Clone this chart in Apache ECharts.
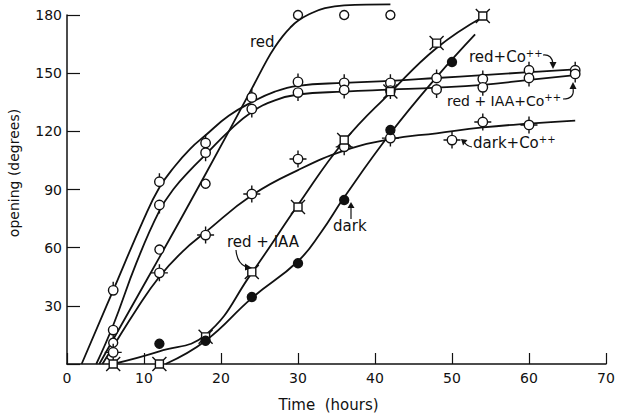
<!DOCTYPE html>
<html>
<head>
<meta charset="utf-8">
<script src="https://cdn.jsdelivr.net/npm/echarts@6/dist/echarts.min.js"></script>
<style>
  html, body { margin: 0; padding: 0; background: #fff; }
  #chart { width: 619px; height: 419px; }
</style>
</head>
<body>
<div id="chart"></div>
<script>
// measured points: time (hours) / opening (degrees)
const redTime = [6, 12, 18, 30, 36, 42]
const redOpen = [11, 59, 93, 180, 180, 180]

const redCoTime = [6, 12, 18, 24, 30, 36, 42, 48, 54, 60, 66]
const redCoOpen = [38, 94, 114, 137.5, 145.5, 145, 145, 147.5, 147, 151.5, 151.5]

const redIaaCoTime = [6, 12, 18, 24, 30, 36, 42, 48, 54, 60, 66]
const redIaaCoOpen = [17.5, 82, 109, 131.5, 140, 141.3, 141, 141.6, 142.7, 147.5, 149.6]

const darkCoTime = [6, 12, 18, 24, 30, 36, 42, 50, 54, 60]
const darkCoOpen = [6, 47, 66.5, 87.7, 105.7, 112, 116.5, 115.5, 124.8, 123.3]

const redIaaTime = [6, 12, 18, 24, 30, 36, 42, 48, 54]
const redIaaOpen = [0, 0, 14, 47.5, 81, 115.5, 140.5, 165.5, 179.5]

const darkTime = [12, 18, 24, 30, 36, 42, 50]
const darkOpen = [10.5, 12, 34.5, 52, 84.6, 120.7, 155.8]

// hand-drawn fitted curves
const redFitTime = [4.2, 12, 18, 24, 26, 27, 28, 29, 30, 31.5, 33.5, 36, 42]
const redFitOpen = [0, 55, 98, 142, 157, 163.5, 169, 173.5, 177, 180.5, 183.5, 185, 185.5]

const redCoFitTime = [1.9, 6, 10, 12, 14, 16, 18, 21, 24, 27, 30, 36, 42, 48, 54, 60, 66]
const redCoFitOpen = [0, 38, 75, 91, 102, 111, 118, 128, 135, 140.5, 143.5, 145, 146, 147.5, 149, 150.5, 152]

const redIaaCoFitTime = [3.8, 6, 9, 12, 14, 16, 18, 21, 24, 27, 30, 36, 42, 48, 54, 60, 66]
const redIaaCoFitOpen = [0, 20, 52, 79, 91, 100, 108, 120, 130, 136, 139, 140.5, 141.5, 142.5, 144, 146.5, 149]

const darkCoFitTime = [4.6, 6, 9, 12, 15, 18, 24, 30, 36, 42, 48, 54, 60, 66]
const darkCoFitOpen = [0, 9, 28, 45, 58, 68, 87, 100, 110, 116, 119, 122, 124, 125.5]

const redIaaFitTime = [6, 12, 18, 24, 30, 36, 42, 48, 54]
const redIaaFitOpen = [0, 6.5, 15, 47, 82, 115, 140, 163, 179]

const darkFitTime = [12.8, 18, 24, 30, 33, 36, 42, 48, 53]
const darkFitOpen = [0, 12, 34, 53, 68, 86, 119, 148, 170]

const pairs = (xs, ys) => xs.map((x, i) => [x, ys[i]])

const FONT = "'DejaVu Sans', sans-serif"
const INK = '#111'

// marker shapes
const ring = 'M0 -5 A5 5 0 1 1 0 5 A5 5 0 1 1 0 -5 Z '
const symTickUp = 'path://' + ring + 'M0 -5 L0 -9 M0 9 L0 9 M-9 0 L-9 0 M9 0 L9 0'
const symTickDown = 'path://' + ring + 'M0 5 L0 9 M0 -9 L0 -9 M-9 0 L-9 0 M9 0 L9 0'
const symCross = 'path://' + ring + 'M0 -5 L0 -9 M0 5 L0 9 M-5 0 L-9 0 M5 0 L9 0'
const symStar = 'path://M-4 -4 L4 -4 L4 4 L-4 4 Z M-4 -4 L-7 -7 M4 -4 L7 -7 M4 4 L7 7 M-4 4 L-7 7'

const fitLine = (xs, ys) => ({
    type: 'line',
    data: pairs(xs, ys),
    showSymbol: false,
    smooth: 0.45,
    clip: false,
    lineStyle: { color: INK, width: 1.8 },
    silent: true,
    z: 2
})

const points = (xs, ys, symbol, size, fill) => ({
    type: 'scatter',
    data: pairs(xs, ys),
    symbol: symbol,
    symbolSize: size,
    clip: false,
    itemStyle: { color: fill || '#fff', borderColor: INK, borderWidth: 1.4, opacity: 1 },
    z: 3
})

const chart = echarts.init(document.getElementById('chart'), null, { renderer: 'svg' })

const sup = { fontSize: 10, fontFamily: FONT, verticalAlign: 'top', fill: INK }
const label = (text, x, y, size) => ({
    type: 'text',
    x: x, y: y,
    style: {
        text: text,
        font: (size || 15) + 'px ' + FONT,
        fill: INK,
        textAlign: 'left',
        textVerticalAlign: 'middle',
        lineHeight: 18,
        rich: { s: sup }
    },
    z: 10
})
const curve = (x1, y1, cx, cy, x2, y2) => ({
    type: 'bezierCurve',
    shape: { x1: x1, y1: y1, cpx1: cx, cpy1: cy, x2: x2, y2: y2 },
    style: { stroke: INK, fill: null, lineWidth: 1.2 },
    z: 10
})
const head = (pts) => ({
    type: 'polygon',
    shape: { points: pts },
    style: { fill: INK },
    z: 10
})

chart.setOption({
    animation: false,
    backgroundColor: '#fff',
    grid: { left: 67, right: 13, top: 15, bottom: 55 },
    xAxis: {
        type: 'value',
        min: 0, max: 70, interval: 10,
        name: 'Time  (hours)',
        nameLocation: 'middle',
        nameGap: 33,
        nameTextStyle: { fontFamily: FONT, fontSize: 15, color: INK, padding: [0, 16, 0, 0] },
        axisLine: { lineStyle: { color: INK, width: 1.5 } },
        axisTick: { inside: true, length: 11, lineStyle: { color: INK, width: 1.2 } },
        axisLabel: { margin: 7, fontFamily: FONT, fontSize: 14, color: INK },
        splitLine: { show: false }
    },
    yAxis: {
        type: 'value',
        min: 0, max: 180, interval: 30,
        axisLine: { show: true, lineStyle: { color: INK, width: 1.5 } },
        axisTick: { show: true, inside: true, length: 13, lineStyle: { color: INK, width: 1.2 } },
        axisLabel: {
            margin: 5, fontFamily: FONT, fontSize: 14, color: INK,
            formatter: v => (v === 0 ? '' : String(v))
        },
        splitLine: { show: false }
    },
    series: [
        fitLine(redFitTime, redFitOpen),
        fitLine(redCoFitTime, redCoFitOpen),
        fitLine(redIaaCoFitTime, redIaaCoFitOpen),
        fitLine(darkCoFitTime, darkCoFitOpen),
        fitLine(redIaaFitTime, redIaaFitOpen),
        fitLine(darkFitTime, darkFitOpen),
        points(redTime, redOpen, 'circle', 9),
        points(redCoTime, redCoOpen, symTickUp, 17),
        points(redIaaCoTime, redIaaCoOpen, symTickDown, 17),
        points(darkCoTime, darkCoOpen, symCross, 17),
        points(redIaaTime, redIaaOpen, symStar, 14),
        points(darkTime, darkOpen, 'circle', 9, INK)
    ],
    graphic: [
        {
            type: 'text', x: 14, y: 173, rotation: Math.PI / 2,
            style: {
                text: 'opening (degrees)', font: '14px ' + FONT, fill: INK,
                textAlign: 'center', textVerticalAlign: 'middle'
            }
        },
        label('red', 250, 42),
        label('red+Co{s|++}', 469, 57),
        curve(543, 55, 552, 54, 553, 64), head([[549.5, 62], [556.5, 62], [553, 69]]),
        label('red + IAA+Co{s|++}', 447, 101, 14),
        curve(563, 99, 575, 99, 573, 88), head([[569.5, 89], [576.5, 89], [573, 82]]),
        label('dark+Co{s|++}', 473, 143),
        curve(472, 147, 467, 146, 465, 143), head([[461, 139], [467.5, 140], [463, 145.5]]),
        label('red + IAA', 227, 242),
        curve(236, 250, 237, 263, 246, 267), head([[245, 263.5], [245, 270.5], [252, 268]]),
        label('dark', 333, 226),
        { type: 'line', shape: { x1: 351, y1: 219, x2: 351, y2: 207 }, style: { stroke: INK, lineWidth: 1.2 }, z: 10 },
        head([[347.5, 208], [354.5, 208], [351, 202]])
    ]
})
</script>
</body>
</html>
